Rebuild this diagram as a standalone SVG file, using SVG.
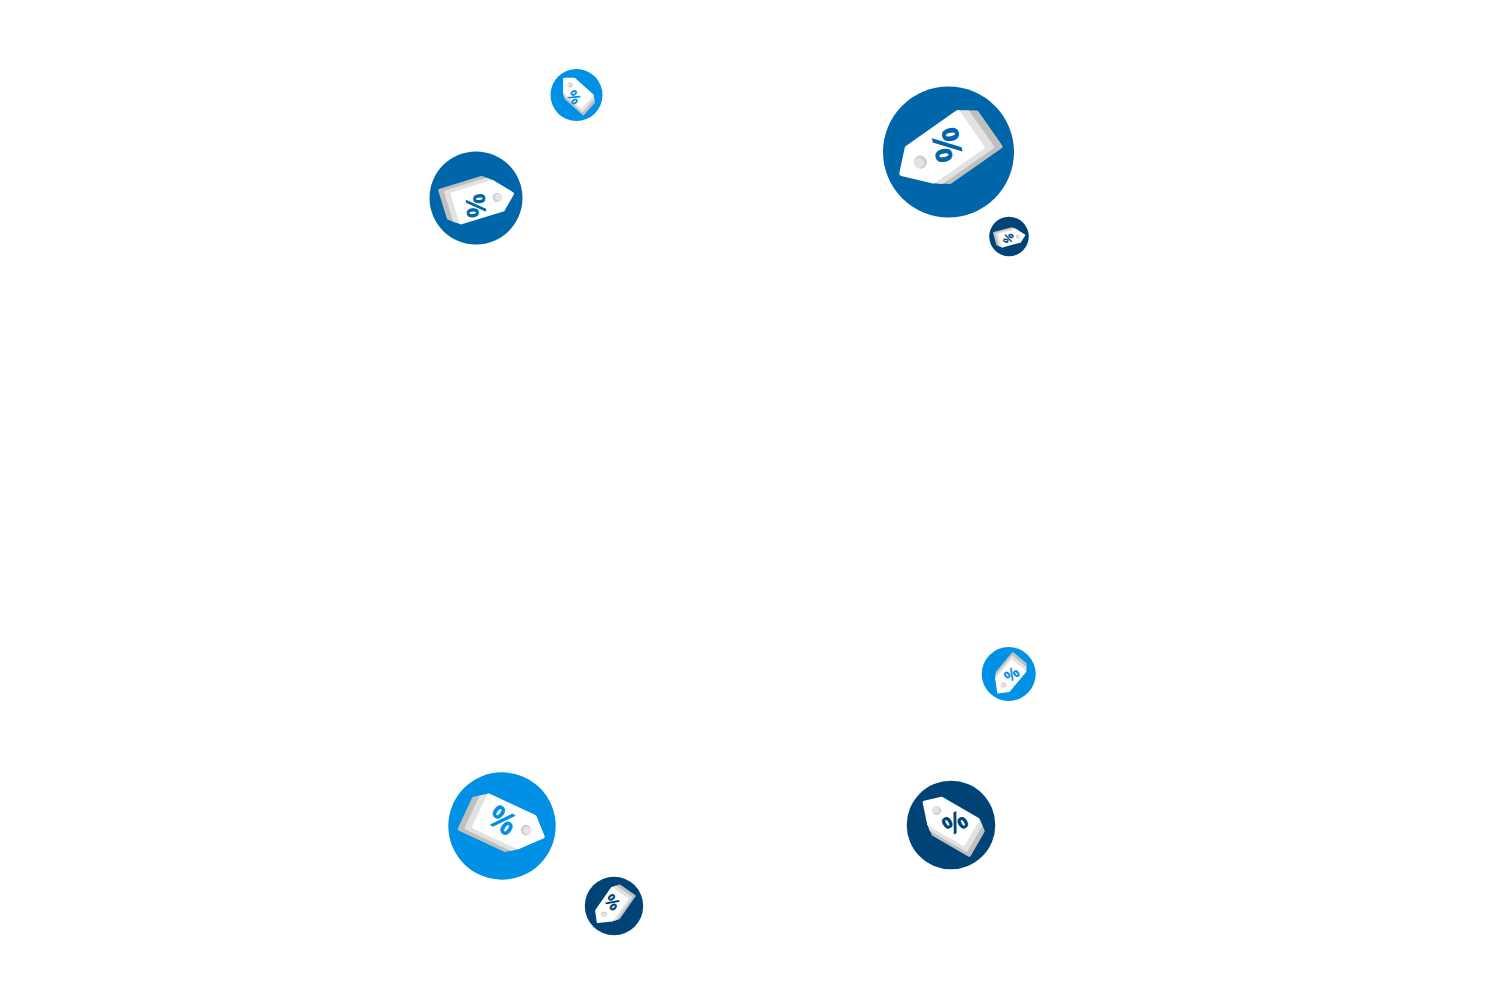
<svg xmlns="http://www.w3.org/2000/svg" width="1508" height="997" viewBox="0 0 1508 997">
<style>
.pct{font-family:"Open Sans","Liberation Sans",Arial,sans-serif;font-weight:700;text-anchor:middle}
.m{fill:#0066aa}.l{fill:#0090e6}.d{fill:#004477}
.w{fill:#fff;stroke:#fff}.g1{fill:#e2e2e2;stroke:#e2e2e2}.g2{fill:#bfbfbf;stroke:#bfbfbf}
.w,.g1,.g2{stroke-width:4;stroke-linejoin:round}
</style>
<defs>
<g id="tag">
<path class="g2" d="M24,-20 L34.5,-12 L34.5,19 L-12,19 L-22,11 Z"/>
<path class="g1" d="M23,-20 L29,-16 L29,15.5 L-17,15.5 L-22,11 Z"/>
<path class="w" d="M-24,-20.5 L-38.5,-7 L-22,11.5 L23,11.5 L23,-20.5 Z"/>
<circle cx="-22" cy="-6" r="5" fill="#cfcfcf"/>
<circle cx="-23.2" cy="-6" r="3.8" fill="#e4e4e4"/>
</g>
</defs>
<rect width="1508" height="997" fill="#fff"/>
<g id="badge-a"><circle class="m" cx="948.5" cy="152" r="65.5"/><use href="#tag" transform="translate(948.5,152) rotate(-35) scale(1.31)"/><text class="pct m" font-size="38" dy=".36em" transform="translate(947.3,145) rotate(78)">%</text></g>
<g id="badge-b"><circle class="d" cx="1009" cy="236.5" r="19.8"/><use href="#tag" transform="translate(1009,236.5) rotate(165) scale(.396)"/><text class="pct d" font-size="12" dy=".36em" transform="translate(1008.3,238.3) rotate(-72)">%</text></g>
<g id="badge-c"><circle class="m" cx="476" cy="198" r="46.5"/><use href="#tag" transform="translate(476,198) rotate(163) scale(.93)"/><text class="pct m" font-size="27" dy=".36em" transform="translate(476,205.7) rotate(85)">%</text></g>
<g id="badge-d"><circle class="l" cx="576.5" cy="95" r="26"/><use href="#tag" transform="translate(576.5,95) rotate(42) scale(.52)"/><text class="pct l" font-size="15" dy=".36em" transform="translate(574,97.3) rotate(55)">%</text></g>
<g id="badge-e"><circle class="l" cx="502" cy="826" r="53.7"/><use href="#tag" transform="translate(502,826) rotate(205) scale(1.07,-1.07)"/><text class="pct l" font-size="31" dy=".36em" transform="translate(502.7,820) rotate(35)">%</text></g>
<g id="badge-f"><circle class="d" cx="614" cy="906" r="29.2"/><use href="#tag" transform="translate(614,906) rotate(-55) scale(.58)"/><text class="pct d" font-size="17" dy=".36em" transform="translate(612.3,902.3) rotate(50)">%</text></g>
<g id="badge-g"><circle class="l" cx="1008.7" cy="674" r="27"/><use href="#tag" transform="translate(1008.7,674) rotate(-50) scale(.54,-.54)"/><text class="pct l" font-size="16" dy=".36em" transform="translate(1011.7,674.3) rotate(-38)">%</text></g>
<g id="badge-h"><circle class="d" cx="951" cy="825" r="44.3"/><use href="#tag" transform="translate(951,825) rotate(30) scale(.89)"/><text class="pct d" font-size="27" dy=".36em" transform="translate(955,822.7) rotate(-30)">%</text></g>
</svg>
